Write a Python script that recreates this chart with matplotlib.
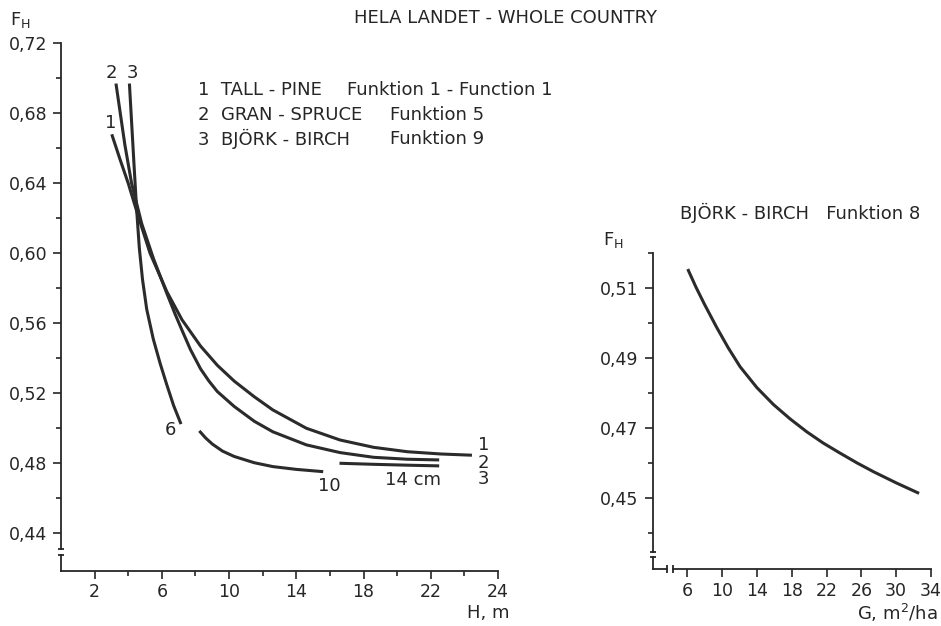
import numpy as np
import matplotlib
matplotlib.use("Agg")
import matplotlib.pyplot as plt
import matplotlib.transforms as mtransforms

# ---- data ----
# left panel: F_H against H (m)
h_tall = [3.02, 3.5, 4.0, 4.6, 5.3, 6.3, 7.2, 8.3, 9.3, 10.3, 11.5, 12.6, 14.6, 16.6, 18.6, 20.6, 22.6, 24.45]
f_tall = [0.668, 0.654, 0.640, 0.621, 0.600, 0.578, 0.562, 0.547, 0.536, 0.527, 0.518, 0.5105, 0.500, 0.4933, 0.4891, 0.4866, 0.4853, 0.4846]

h_gran = [3.27, 3.8, 4.2, 4.8, 5.5, 6.3, 6.8, 7.2, 7.7, 8.3, 8.8, 9.3, 10.3, 11.5, 12.6, 14.6, 16.6, 18.6, 20.6, 22.5]
f_gran = [0.697, 0.662, 0.640, 0.617, 0.597, 0.577, 0.565, 0.556, 0.545, 0.534, 0.527, 0.521, 0.5125, 0.504, 0.498, 0.4905, 0.4861, 0.4834, 0.4823, 0.4819]

h_bjork_6 = [4.07, 4.2, 4.36, 4.5, 4.66, 4.85, 5.1, 5.49, 5.9, 6.29, 6.7, 7.14]
f_bjork_6 = [0.697, 0.675, 0.648, 0.625, 0.603, 0.585, 0.568, 0.551, 0.537, 0.525, 0.513, 0.5024]

h_bjork_10 = [8.23, 8.6, 9.0, 9.6, 10.3, 11.5, 12.6, 14.0, 15.6]
f_bjork_10 = [0.4985, 0.4945, 0.491, 0.487, 0.4839, 0.4803, 0.4781, 0.4765, 0.4752]

h_bjork_14 = [16.57, 18.6, 20.6, 22.5]
f_bjork_14 = [0.4800, 0.4794, 0.4789, 0.4785]

# right panel: F_H against G (m2/ha)
g_birch = [6.05, 7.0, 8.0, 9.38, 10.7, 12.06, 14.0, 15.89, 17.8, 19.72, 21.6, 23.55, 25.5, 27.38, 30.0, 32.63]
f_birch = [0.5155, 0.5103, 0.5053, 0.4988, 0.4930, 0.4876, 0.4816, 0.4768, 0.4727, 0.4690, 0.4658, 0.4629, 0.4601, 0.4576, 0.4544, 0.4514]

left_yticks = [0.44, 0.48, 0.52, 0.56, 0.60, 0.64, 0.68, 0.72]
left_yminor = [0.46, 0.50, 0.54, 0.58, 0.62, 0.66, 0.70]
left_xticks = [2, 6, 10, 14, 18, 22, 26]
left_xlabels = ["2", "6", "10", "14", "18", "22", "24"]
left_xminor = [4, 8, 12, 16, 20, 24]

right_yticks = [0.45, 0.47, 0.49, 0.51]
right_yminor = [0.44, 0.46, 0.48, 0.50, 0.52]
right_xticks = [6, 10, 14, 18, 22, 26, 30, 34]

legend_rows = [("1  TALL - PINE", "Funktion 1 - Function 1"),
               ("2  GRAN - SPRUCE", "Funktion 5"),
               ("3  BJÖRK - BIRCH", "Funktion 9")]

ink = "#262626"
W, H = 941, 626
FS = 13
plt.rcParams["font.family"] = ["DejaVu Sans"]
plt.rcParams["font.size"] = FS
plt.rcParams["text.color"] = ink

fig = plt.figure(figsize=(W / 100, H / 100), dpi=100)


def px(x, y):
    return x / W, 1 - y / H


def style_axes(ax):
    for s in ["top", "right"]:
        ax.spines[s].set_visible(False)
    for s in ["left", "bottom"]:
        ax.spines[s].set_linewidth(1.3)
        ax.spines[s].set_color(ink)
    ax.tick_params(which="major", length=6, width=1.2, color=ink, labelcolor=ink,
                   labelsize=12.5, pad=4)
    ax.tick_params(which="minor", length=3.5, width=1.2, color=ink)
    ax.patch.set_alpha(0)


def ybreak(ax, y_lo, y_hi, y_bottom):
    # broken y axis: spine drawn from y_hi upward, plus short stub at bottom
    ax.spines["left"].set_bounds(y_hi, ax.get_ylim()[1])
    tr = mtransforms.blended_transform_factory(ax.transAxes, ax.transData)
    ax.plot([0, 0], [y_bottom, y_lo], transform=tr, color=ink, lw=1.3, clip_on=False)
    ax.plot([0, 0], [y_lo, y_hi], transform=tr, ls="none", marker="_", ms=5,
            mew=1.3, color=ink, clip_on=False)


# ---------------- left panel ----------------
axl = fig.add_axes([61 / W, 1 - 570.7 / H, (498 - 61) / W, (570.7 - 43.3) / H])
style_axes(axl)
axl.set_xlim(0, 26)
axl.set_ylim(0.4186, 0.72)
for hx, fy in [(h_tall, f_tall), (h_gran, f_gran), (h_bjork_6, f_bjork_6),
               (h_bjork_10, f_bjork_10), (h_bjork_14, f_bjork_14)]:
    axl.plot(hx, fy, color="#2b2b2b", lw=2.2, solid_capstyle="butt",
             solid_joinstyle="round", clip_on=False)
axl.set_yticks(left_yticks)
axl.set_yticklabels([f"{v:.2f}".replace(".", ",") for v in left_yticks])
axl.set_yticks(left_yminor, minor=True)
axl.set_xticks(left_xticks)
axl.set_xticklabels(left_xlabels)
axl.set_xticks(left_xminor, minor=True)
axl.tick_params(axis="x", pad=3)
ybreak(axl, 0.4276, 0.4309, 0.4186)

# curve labels
for txt, hx, fy in [("2", 3.02, 0.7029), ("3", 4.27, 0.7029), ("1", 2.96, 0.6746),
                    ("6", 6.49, 0.499), ("10", 15.97, 0.467), ("14 cm", 20.97, 0.4705),
                    ("1", 25.14, 0.4905), ("2", 25.14, 0.4803), ("3", 25.14, 0.4709)]:
    axl.text(hx, fy, txt, ha="center", va="center", fontsize=FS, color=ink)

for i, (a, b) in enumerate(legend_rows):
    y = 90 + i * 24.5
    fig.text(*px(198, y), a, ha="left", va="center", fontsize=FS)
    fig.text(*px(347 if i == 0 else 390, y), b, ha="left", va="center", fontsize=FS)

fig.text(*px(506, 18), "HELA LANDET - WHOLE COUNTRY", ha="center", va="center", fontsize=FS)
fig.text(*px(10, 20), r"F$_\mathregular{H}$", ha="left", va="center", fontsize=FS)
fig.text(*px(510, 613), "H, m", ha="right", va="center", fontsize=FS)

# ---------------- right panel ----------------
axr = fig.add_axes([652.5 / W, 1 - 569.3 / H, (931 - 652.5) / W, (569.3 - 253.3) / H])
style_axes(axr)
axr.set_xlim(2, 34)
axr.set_ylim(0.4297, 0.52)
axr.plot(g_birch, f_birch, color="#2b2b2b", lw=2.2, solid_capstyle="butt",
         solid_joinstyle="round")
axr.set_yticks(right_yticks)
axr.set_yticklabels([f"{v:.2f}".replace(".", ",") for v in right_yticks])
axr.set_yticks(right_yminor, minor=True)
axr.set_xticks(right_xticks)
axr.tick_params(axis="x", pad=3)
ybreak(axr, 0.4331, 0.4347, 0.4297)
# broken x axis
axr.spines["bottom"].set_bounds(4.32, 34)
trx = mtransforms.blended_transform_factory(axr.transData, axr.transAxes)
axr.plot([2, 3.63], [0, 0], transform=trx, color=ink, lw=1.3, clip_on=False)
axr.plot([3.63, 4.32], [0, 0], transform=trx, ls="none", marker="|", ms=6,
         mew=1.3, color=ink, clip_on=False)

fig.text(*px(800, 213), "BJÖRK - BIRCH   Funktion 8", ha="center", va="center", fontsize=FS)
fig.text(*px(603, 240), r"F$_\mathregular{H}$", ha="left", va="center", fontsize=FS)
fig.text(*px(938, 613), r"G, m$^\mathregular{2}$/ha", ha="right", va="center", fontsize=FS)

fig.savefig("out.png", dpi=100, facecolor="white")
